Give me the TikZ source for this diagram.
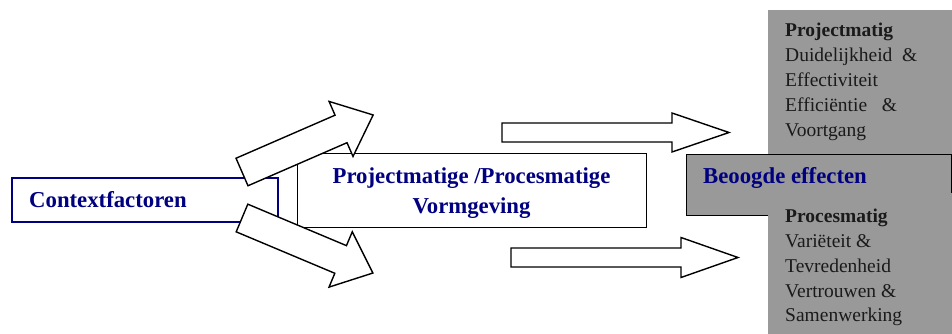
\documentclass[tikz,border=0pt]{standalone}
\usepackage{fontspec}
\setmainfont{Liberation Serif}
\definecolor{navy}{RGB}{0,0,128}
\definecolor{boxgray}{RGB}{153,153,153}
\definecolor{inktext}{RGB}{26,26,26}
\tikzset{
  heading/.style={font=\fontsize{22.75}{28}\selectfont\bfseries, text=navy, inner sep=0pt},
  bodyline/.style={font=\fontsize{19.5}{24.5}\selectfont, text=inktext, inner sep=0pt, anchor=base west},
  boldline/.style={bodyline, font=\fontsize{19.5}{24.5}\selectfont\bfseries},
  frame/.style={draw=black, line width=1.4pt, fill=white, inner sep=0pt},
  bluebox/.style={draw=navy, line width=2pt, fill=white, inner sep=0pt},
  graybox/.style={fill=boxgray, inner sep=0pt, anchor=north west},
  arrowshape/.style={draw=black, fill=white, line width=1.4pt, line join=miter},
}
% block arrow: tail centre, angle, length, shaft half-width, head half-width, head length
\newcommand\blockarrow[6]{%
  \draw[arrowshape, shift={(#1)}, rotate=#2]
    (0,-#4) -- ({#3-#6},-#4) -- ({#3-#6},-#5) -- (#3,0)
    -- ({#3-#6},#5) -- ({#3-#6},#4) -- (0,#4) -- cycle;}
\begin{document}
\begin{tikzpicture}[x=1pt,y=-1pt]
\useasboundingbox (0,0) rectangle (952,334);

% input box
\node[bluebox, minimum width=266pt, minimum height=44pt, anchor=north west]
  (context) at (11,177) {};
\node[heading, anchor=base west] (contextlabel) at (29,207) {Contextfactoren};

% design box
\node[frame, minimum width=349pt, minimum height=74pt, anchor=north west]
  (design) at (297,153) {};
\node[heading, anchor=base] (designlabelA) at (471.5,183) {Projectmatige /Procesmatige};
\node[heading, anchor=base] (designlabelB) at (471.5,213) {Vormgeving};

% effect boxes
\node[graybox, minimum width=186pt, minimum height=150pt] (project) at (768,10) {};
\node[graybox, draw=black, line width=1.4pt, minimum width=265pt, minimum height=61pt]
  (effects) at (686,154) {};
\node[graybox, minimum width=186pt, minimum height=142pt] (process) at (768,193) {};
\node[heading, anchor=base west] (effectslabel) at (703,183) {Beoogde effecten};

\node[boldline] (pA) at (785,37) {Projectmatig};
\node[bodyline] (pB) at (785,62) {Duidelijkheid\ \ \&};
\node[bodyline] (pC) at (785,87) {Effectiviteit};
\node[bodyline] (pD) at (785,112) {Efficiëntie\ \ \ \&};
\node[bodyline] (pE) at (785,136) {Voortgang};

\node[boldline] (qA) at (785,222) {Procesmatig};
\node[bodyline] (qB) at (785,247) {Variëteit \&};
\node[bodyline] (qC) at (785,272) {Tevredenheid};
\node[bodyline] (qD) at (785,297) {Vertrouwen \&};
\node[bodyline] (qE) at (785,321) {Samenwerking};

% block arrows
\coordinate (upTail) at (242,172);
\coordinate (downTail) at (242,218);
\coordinate (rightUpTail) at (502,132.5);
\coordinate (rightDownTail) at (511,257.5);
\blockarrow{upTail}{23.5}{143}{15}{30}{35}
\blockarrow{downTail}{-22.8}{142}{15}{30}{35}
\blockarrow{rightUpTail}{0}{227}{9.5}{19.5}{57}
\blockarrow{rightDownTail}{0}{227}{9.5}{20}{57}
\end{tikzpicture}
\end{document}
